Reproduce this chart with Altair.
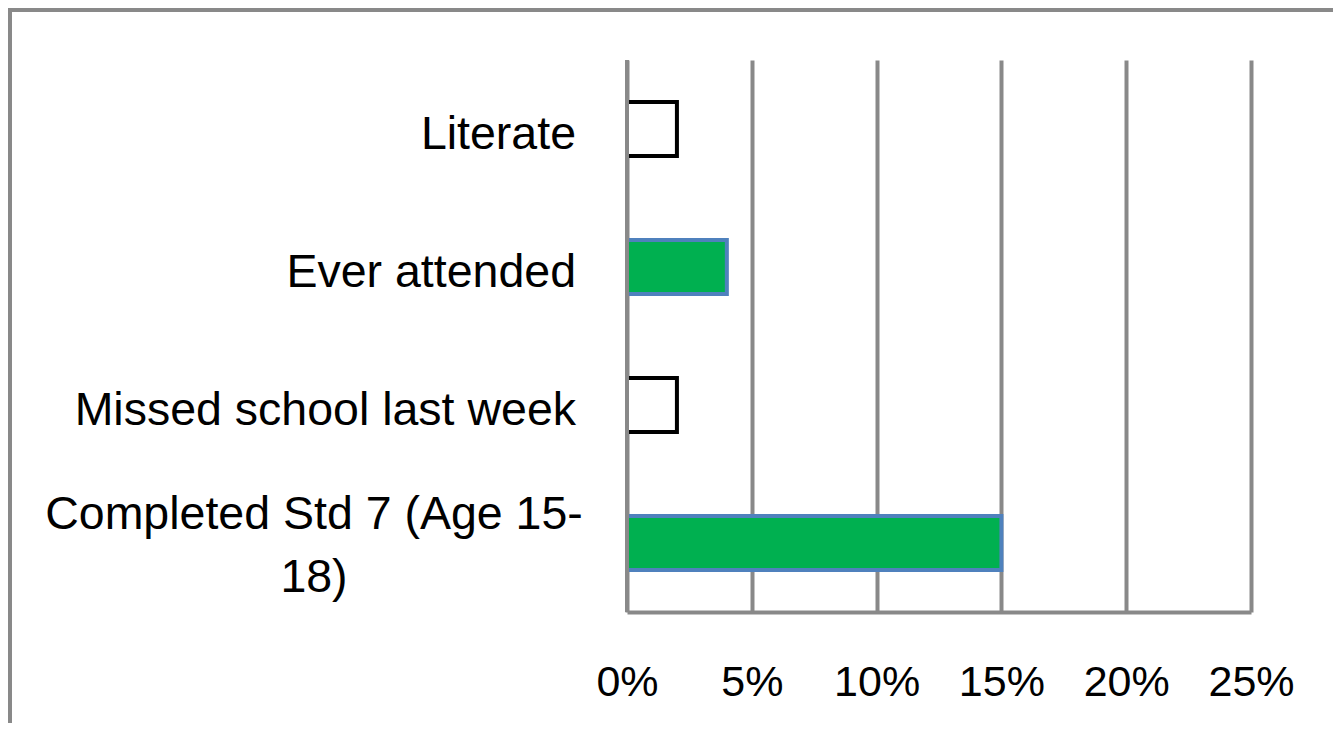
import altair as alt
import pandas as pd

# ---- data ----
categories = ["Literate", "Ever attended", "Missed school last week", "Completed Std 7 (Age 15-18)"]
labels = ["Literate", "Ever attended", "Missed school last week", "Completed Std 7 (Age 15-|18)"]
values = [2, 4, 2, 15]          # percent
highlighted = ["Ever attended", "Completed Std 7 (Age 15-18)"]
x_ticks = [0, 5, 10, 15, 20, 25]

df = pd.DataFrame({"category": categories, "label": labels, "value": values})
one = pd.DataFrame({"a": [0]})

GRID = "#898989"
FONT = "Liberation Sans"

y_enc = alt.Y(
    "category:N",
    scale=alt.Scale(domain=categories, paddingInner=0.61, paddingOuter=0.305),
    axis=None,
)
is_hl = alt.FieldOneOfPredicate(field="category", oneOf=highlighted)

bars = alt.Chart(df).mark_bar(strokeWidth=4).encode(
    x=alt.X(
        "value:Q",
        scale=alt.Scale(domain=[0, 25], nice=False),
        axis=alt.Axis(
            values=x_ticks,
            labelExpr="datum.value + '%'",
            grid=True, gridColor=GRID, gridWidth=4, gridOpacity=1,
            ticks=False, tickSize=0,
            domain=True, domainColor=GRID, domainWidth=4,
            labelFont=FONT, labelFontSize=43, labelColor="black",
            labelPadding=83, labelBaseline="alphabetic",
            labelFlush=False, labelOverlap=False,
            title=None,
        ),
    ),
    y=y_enc,
    fill=alt.condition(is_hl, alt.value("#00B050"), alt.value("white")),
    stroke=alt.condition(is_hl, alt.value("#4F81BD"), alt.value("black")),
)

zero_line = alt.Chart(one).mark_rule(color=GRID, strokeWidth=4).encode(x=alt.datum(0))

single_labels = alt.Chart(df).transform_filter(
    "indexof(datum.label, '|') < 0"
).mark_text(
    align="right", baseline="alphabetic", dy=20,
    font=FONT, fontSize=46.5, color="black",
).encode(x=alt.value(-51), y=y_enc, text="label:N")

multi_labels = alt.Chart(df).transform_filter(
    "indexof(datum.label, '|') >= 0"
).mark_text(
    align="center", baseline="alphabetic", dy=-14, lineBreak="|", lineHeight=63,
    font=FONT, fontSize=46.5, color="black",
).encode(x=alt.value(-313), y=y_enc, text="label:N")

border_top = alt.Chart(one).mark_rule(color=GRID, strokeWidth=4).encode(
    x=alt.value(-619), x2=alt.value(706), y=alt.value(-50)
)
border_left = alt.Chart(one).mark_rule(color=GRID, strokeWidth=4).encode(
    x=alt.value(-617), y=alt.value(-52), y2=alt.value(663)
)

chart = alt.layer(
    bars, zero_line, single_labels, multi_labels, border_top, border_left
).properties(
    width=624,
    height=552,
    padding={"left": 619, "top": 52, "right": 82, "bottom": 111},
    autosize=alt.AutoSizeParams(type="none"),
    background="white",
).configure_view(stroke=None)

chart.save("out.html", embed_options={"renderer": "svg", "actions": False})
